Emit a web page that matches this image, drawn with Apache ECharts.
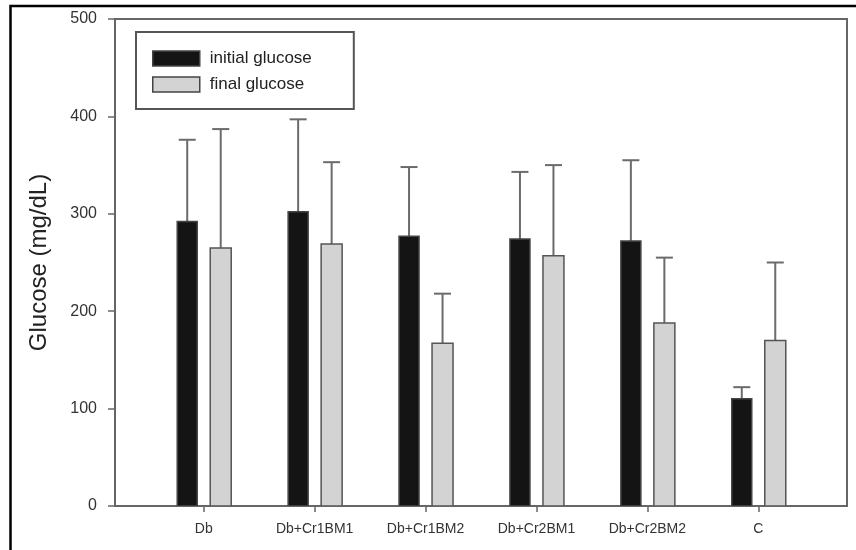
<!DOCTYPE html>
<html>
<head>
<meta charset="utf-8">
<script src="https://cdn.jsdelivr.net/npm/echarts@6/dist/echarts.min.js"></script>
<style>
html,body{margin:0;padding:0;background:#fff;}
#chart{width:856px;height:550px;}
</style>
</head>
<body>
<div id="chart"></div>
<script>
var categories = ['Db', 'Db+Cr1BM1', 'Db+Cr1BM2', 'Db+Cr2BM1', 'Db+Cr2BM2', 'C'];
var initialGlucose = [292, 302, 277, 274, 272, 110];
var initialErr = [84, 95, 71, 69, 83, 12];
var finalGlucose = [265, 269, 167, 257, 188, 170];
var finalErr = [122, 84, 51, 93, 67, 80];
var yTicks = [0, 100, 200, 300, 400, 500];

var FONT = '"Liberation Sans", Arial, sans-serif';

function makeRender(dx0, dx1, fill, stroke) {
  return function (params, api) {
    var x = api.value(0), v = api.value(1), e = api.value(2);
    var top = api.coord([x, v]);
    var base = api.coord([x, 0]);
    var errTop = api.coord([x, v + e]);
    var left = top[0] + dx0, w = dx1 - dx0;
    var mid = left + w / 2;
    return {
      type: 'group',
      children: [
        {type: 'line', shape: {x1: mid, y1: top[1], x2: mid, y2: errTop[1]}, style: {stroke: '#6b6b6b', lineWidth: 2}},
        {type: 'line', shape: {x1: mid - 8.5, y1: errTop[1], x2: mid + 8.5, y2: errTop[1]}, style: {stroke: '#6b6b6b', lineWidth: 2}},
        {type: 'rect', shape: {x: left, y: top[1], width: w, height: base[1] - top[1]}, style: {fill: fill, stroke: stroke, lineWidth: 1.5}}
      ]
    };
  };
}

var chart = echarts.init(document.getElementById('chart'), null, {renderer: 'canvas'});
chart.setOption({
  backgroundColor: '#fff',
  animation: false,
  textStyle: {fontFamily: FONT},
  grid: {left: 115, top: 19, right: 9, bottom: 44, show: true, borderColor: '#666', borderWidth: 2, backgroundColor: 'transparent'},
  legend: {
    orient: 'vertical', left: 136, top: 32,
    padding: [18, 42, 16, 16], itemGap: 9, itemWidth: 47, itemHeight: 15,
    borderColor: '#555', borderWidth: 2, selectedMode: false,
    textStyle: {fontSize: 17, color: '#222', fontFamily: FONT, lineHeight: 15, padding: [0, 0, 0, 5]},
    data: [
      {name: 'initial glucose', icon: 'rect', itemStyle: {color: '#141414', borderColor: '#444', borderWidth: 1.5}},
      {name: 'final glucose', icon: 'rect', itemStyle: {color: '#d3d3d3', borderColor: '#444', borderWidth: 1.5}}
    ]
  },
  xAxis: {
    type: 'value', min: -0.8, max: 5.8,
    axisLine: {show: true, onZero: false, lineStyle: {color: '#666', width: 2}},
    axisTick: {show: true, length: 6, customValues: [0, 1, 2, 3, 4, 5], lineStyle: {color: '#666', width: 1.5}},
    axisLabel: {customValues: [0, 1, 2, 3, 4, 5], formatter: function (v) { return categories[Math.round(v)]; }, fontSize: 14, color: '#333', margin: 16, fontFamily: FONT},
    splitLine: {show: false}
  },
  yAxis: {
    type: 'value', min: 0, max: 500, interval: 100,
    name: 'Glucose (mg/dL)', nameLocation: 'middle', nameRotate: 90, nameGap: 64,
    nameTextStyle: {fontSize: 24, color: '#222', fontFamily: FONT},
    axisLine: {show: true, onZero: false, lineStyle: {color: '#666', width: 2}},
    axisTick: {show: true, length: 7, lineStyle: {color: '#666', width: 1.5}},
    axisLabel: {fontSize: 16, color: '#333', margin: 18, fontFamily: FONT, formatter: function (v) { return yTicks.indexOf(v) >= 0 ? String(v) : ''; }},
    splitLine: {show: false}
  },
  graphic: [
    {type: 'polyline', shape: {points: [[10.5, 550], [10.5, 6], [856, 6]]}, style: {stroke: '#000', lineWidth: 2.5, fill: null}, z: 100}
  ],
  series: [
    {
      name: 'initial glucose', type: 'custom', clip: true,
      itemStyle: {color: '#141414', borderColor: '#444', borderWidth: 1.5},
      encode: {x: 0, y: 1},
      renderItem: makeRender(-26.5, -6.5, '#141414', '#444'),
      data: categories.map(function (c, i) { return [i, initialGlucose[i], initialErr[i]]; })
    },
    {
      name: 'final glucose', type: 'custom', clip: true,
      itemStyle: {color: '#d3d3d3', borderColor: '#444', borderWidth: 1.5},
      encode: {x: 0, y: 1},
      renderItem: makeRender(6.5, 27.5, '#d3d3d3', '#555'),
      data: categories.map(function (c, i) { return [i, finalGlucose[i], finalErr[i]]; })
    }
  ]
});
</script>
</body>
</html>
